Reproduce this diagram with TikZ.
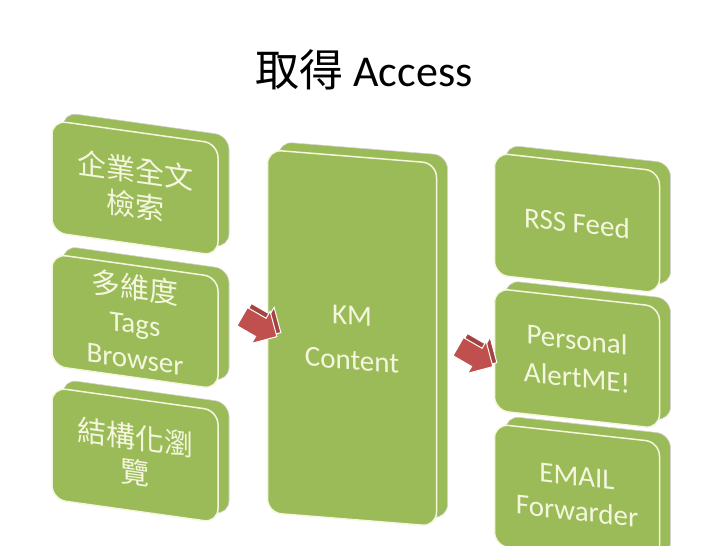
\documentclass[tikz,border=0pt]{standalone}
\usepackage{fontspec}
\setmainfont{Carlito}
\newfontfamily\cjk{Noto Sans CJK TC}
\usetikzlibrary{shapes.arrows,shadows,positioning}
\definecolor{boxgreen}{RGB}{155,187,89}
\definecolor{rimcream}{RGB}{244,247,222}
\definecolor{arrowred}{RGB}{192,80,77}
\tikzset{
    card/.style={draw=rimcream, line width=1.5pt, fill=boxgreen, rounded corners=14pt,
        text=rimcream, align=center, inner sep=0pt,
        font=\fontsize{29}{35}\selectfont,
        copy shadow={shadow xshift=11pt, shadow yshift=8pt, fill=boxgreen, draw=gray!35, line width=0.6pt}},
    leftcol/.style={yslant=-0.14, minimum width=166pt, minimum height=112pt},
    midcol/.style={yslant=-0.08, minimum width=169pt, minimum height=363pt},
    rightcol/.style={yslant=-0.11, minimum width=165pt, minimum height=122pt},
    flow/.style={single arrow, fill=arrowred, draw=white, line width=1pt, rotate=-30,
        minimum height=40pt, inner xsep=0pt, inner ysep=10pt, single arrow head extend=8pt,
        copy shadow={shadow xshift=4pt, shadow yshift=4pt, fill=arrowred!85!black, draw=white}}
}
\begin{document}
\begin{tikzpicture}[x=1pt,y=1pt]
\useasboundingbox (0,0) rectangle (728,546);
\node[font=\fontsize{44}{50}\selectfont] (title) at (364,476) {{\cjk 取得} Access};

% sources
\node[card, leftcol] (search) at (135,358) {{\cjk 企業全文}\\{\cjk 檢索}};
\node[card, leftcol, below=20pt of search] (tags) {{\cjk 多維度}\\Tags\\Browser};
\node[card, leftcol, below=20pt of tags] (browse) {{\cjk 結構化瀏}\\{\cjk 覽}};

% store
\node[card, midcol] (content) at (352,208) {KM\\[10pt]Content};

% outputs
\node[card, rightcol] (rss) at (577,323) {RSS Feed};
\node[card, rightcol, below=12pt of rss] (alert) {Personal\\[3pt]AlertME!};
\node[card, rightcol, below=12pt of alert] (email) {EMAIL\\Forwarder};

\node[flow] (gather) at (255,222) {};
\node[flow] (deliver) at (471,192) {};
\end{tikzpicture}
\end{document}
